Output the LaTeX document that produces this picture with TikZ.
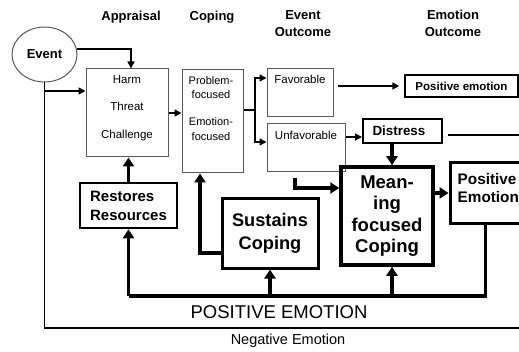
\documentclass[tikz,border=0pt]{standalone}
\usepackage{fontspec}
\setmainfont{Liberation Sans}
\usepackage{tikz}
\usetikzlibrary{shapes.geometric,arrows.meta}

\tikzset{
    thinbox/.style={draw=black!65, line width=1pt, inner sep=0pt},
    boldbox/.style={draw, inner sep=0pt},
    hdr/.style={font=\fontsize{13}{17}\selectfont\bfseries, align=center},
    thinarrow/.style={line width=1.5pt, -{Triangle[length=7pt,width=7pt]}},
    thinline/.style={line width=1.3pt},
    thickarrow/.style={line width=3.5pt, -{Triangle[length=9pt,width=11pt]}},
    thickline/.style={line width=3.5pt},
}

\begin{document}
\begin{tikzpicture}[x=1pt,y=1pt]
    \useasboundingbox (0,0) rectangle (519,351);

    \node[hdr] (happr) at (131,334) {Appraisal};
    \node[hdr] (hcope) at (212,334) {Coping};
    \node[hdr] (hevent) at (303,327.5) {Event\\Outcome};
    \node[hdr] (hemo) at (453,327.5) {Emotion\\Outcome};

    \node[thinbox, ellipse, minimum width=65, minimum height=55,
        font=\fontsize{13}{15}\selectfont\bfseries] (event) at (44.5,296.5) {Event};

    \node[thinbox, minimum width=82, minimum height=88] (appr) at (127,238) {};
    \node[font=\fontsize{11.5}{27.5}\selectfont, align=center] (apprtxt) at (127,243) {Harm\\Threat\\Challenge};

    \node[thinbox, minimum width=61, minimum height=103] (cope) at (212.5,229.5) {};
    \node[font=\fontsize{11}{14.5}\selectfont, align=center] (probtxt) at (211,263.5) {Problem-\\focused};
    \node[font=\fontsize{11}{14.5}\selectfont, align=center] (emotxt) at (211,222) {Emotion-\\focused};

    \node[thinbox, minimum width=66, minimum height=48] (fav) at (300,258) {};
    \node[font=\fontsize{11.5}{14}\selectfont] (favtxt) at (300,272) {Favorable};
    \node[thinbox, minimum width=78, minimum height=48] (unfav) at (306,203) {};
    \node[font=\fontsize{11.5}{14}\selectfont] (unfavtxt) at (306,216) {Unfavorable};

    \node[boldbox, line width=1.5pt, minimum width=113, minimum height=22,
        font=\fontsize{11.5}{14}\selectfont\bfseries] (posemo) at (461.5,265) {Positive emotion};
    \node[boldbox, line width=2pt, minimum width=79, minimum height=24, text width=60, align=left,
        font=\fontsize{13.4}{16}\selectfont\bfseries] (dist) at (402.5,220) {Distress};

    \node[boldbox, line width=3.5pt, minimum width=92, minimum height=98, align=center,
        font=\fontsize{18.5}{21.5}\selectfont\bfseries] (mcope) at (387,135) {Mean-\\ing\\focused\\Coping};
    \node[boldbox, line width=3pt, minimum width=100, minimum height=60] (pemo) at (500,158) {};
    \node[font=\fontsize{15.3}{18}\selectfont\bfseries, align=left, anchor=west, inner sep=0pt] (pemotxt) at (457.5,163) {Positive\\Emotion};

    \node[boldbox, line width=2.5pt, minimum width=97, minimum height=45, align=left,
        font=\fontsize{15}{19}\selectfont\bfseries] (rest) at (128.5,145.5) {Restores\\Resources};
    \node[boldbox, line width=3pt, minimum width=96, minimum height=69, align=center,
        font=\fontsize{18.2}{23}\selectfont\bfseries] (sust) at (270,117.5) {Sustains\\Coping};

    \node[font=\fontsize{18.5}{22}\selectfont] (postxt) at (279,39) {POSITIVE EMOTION};
    \node[font=\fontsize{14.5}{17}\selectfont] (negtxt) at (288,10) {Negative Emotion};

    \coordinate (negR) at (519,23);
    \coordinate (distR) at (519,216);
    \coordinate (apprin) at ([yshift=22]appr.west);
    \coordinate (split) at (255,241);
    \coordinate (peline) at (0,55);

    \draw[thinarrow] (event.10) -| ([xshift=4]appr.north);
    \draw[thinline] (event.south) |- (negR);
    \draw[thinarrow] (event.south |- apprin) -- (apprin);
    \draw[thinarrow] (appr.east) -- (appr.east -| cope.west);
    \draw[thinline] (cope.east |- split) -- (split);
    \draw[thinarrow] (split) |- ([yshift=15]fav.west);
    \draw[thinarrow] (split) |- ([yshift=6]unfav.west);
    \draw[thinarrow, shorten <=4pt, shorten >=5pt] (fav.east |- posemo.west) -- (posemo.west);
    \draw[thinarrow] ([yshift=11]unfav.east) -- ([yshift=11]unfav.east -| dist.west);
    \draw[thinline] ([xshift=5,yshift=-4]dist.east) -- (distR);

    \draw[thickarrow] ([xshift=-10.5]dist.south) -- ([xshift=-10.5]dist.south |- mcope.north);
    \draw[thickarrow] ([xshift=-11,yshift=-6]unfav.south) |- ([yshift=28]mcope.west);
    \draw[thickarrow] (mcope.east |- pemo.west) -- (pemo.west);
    \draw[thickline] ([xshift=37]pemo.south west) |- (peline -| rest.south);
    \draw[thickarrow] (peline -| rest.south) -- (rest.south);
    \draw[thickarrow] (peline -| sust.south) -- (sust.south);
    \draw[thickarrow] ([xshift=5]mcope.south |- peline) -- ([xshift=5]mcope.south);
    \draw[thickarrow] (rest.north) -- (rest.north |- appr.south);
    \draw[thickarrow] ([yshift=-19.5]sust.west) -| ([xshift=-12.5]cope.south);
\end{tikzpicture}
\end{document}
